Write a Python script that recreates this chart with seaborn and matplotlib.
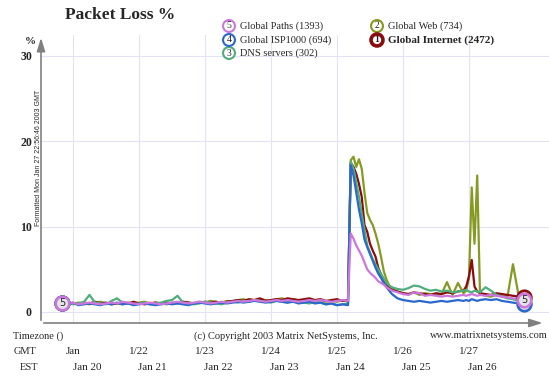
import numpy as np
import pandas as pd
import matplotlib
matplotlib.use("Agg")
import matplotlib.pyplot as plt
import matplotlib.transforms as mtransforms
import seaborn as sns

# ==========================================
# DATA (hours since Jan 20 00:00 GMT)
# ==========================================
hours = (list(range(20, 125, 2)) + list(range(125, 141)) + list(range(142, 167, 2))
         + list(range(167, 173)) + list(range(174, 189, 2)))

global_web = [1.0, 0.9, 1.0, 1.1, 1.0, 0.9, 1.1, 1.2, 1.0, 1.1,
              1.0, 0.9, 1.1, 1.0, 1.1, 1.2, 1.0, 1.1, 1.0, 0.9,
              1.1, 1.0, 1.2, 1.1, 1.0, 1.2, 1.1, 1.3, 1.2, 1.1,
              1.3, 1.2, 1.4, 1.5, 1.3, 1.4, 1.5, 1.4, 1.3, 1.5,
              1.6, 1.4, 1.5, 1.3, 1.4, 1.5, 1.3, 1.4, 1.2, 1.3,
              1.2, 1.4, 1.2,
              17.8, 18.2, 17.0, 17.9, 16.8, 14.0, 11.6, 10.8, 10.2, 9.2, 8.0, 6.5, 4.8, 3.8, 3.1, 2.8,
              2.4, 2.2, 2.1, 2.3, 2.0, 2.2, 2.1, 2.0, 2.1, 3.5, 2.0, 3.4, 2.2,
              2.5, 4.0, 14.6, 8.0, 16.0, 2.2,
              1.9, 1.8, 2.0, 1.9, 1.8, 5.6, 2.0, 1.6]

global_internet = [1.0, 1.1, 1.0, 0.9, 1.1, 1.0, 1.2, 1.0, 1.1, 0.9,
                   1.0, 1.1, 1.0, 1.2, 1.0, 0.9, 1.0, 1.1, 1.0, 1.1,
                   1.0, 1.1, 1.2, 1.1, 1.0, 1.1, 1.2, 1.1, 1.2, 1.0,
                   1.2, 1.3, 1.4, 1.3, 1.5, 1.4, 1.6, 1.3, 1.4, 1.5,
                   1.4, 1.6, 1.5, 1.4, 1.5, 1.6, 1.4, 1.5, 1.3, 1.4,
                   1.5, 1.3, 1.4,
                   17.5, 17.0, 16.2, 15.0, 13.5, 10.2, 9.4, 8.0, 7.2, 6.5, 5.2, 4.4, 3.8, 3.2, 2.8, 2.6,
                   2.4, 2.2, 2.1, 2.3, 2.2, 2.1, 2.0, 2.2, 2.1, 2.3, 2.2, 2.4, 2.5,
                   3.0, 4.2, 6.1, 3.0, 2.4, 2.2,
                   2.1, 2.0, 2.2, 2.1, 2.0, 1.9, 1.8, 1.7]

dns_servers = [1.0, 1.1, 0.9, 1.0, 1.2, 2.0, 1.1, 1.0, 0.9, 1.3,
               1.6, 1.1, 1.0, 0.9, 1.0, 1.1, 0.9, 1.0, 1.1, 1.3,
               1.4, 1.9, 1.1, 1.0, 0.9, 1.0, 1.2, 1.1, 1.0, 0.9,
               1.1, 1.2, 1.1, 1.3, 1.2, 1.4, 1.3, 1.2, 1.1, 1.3,
               1.2, 1.1, 1.3, 1.2, 1.1, 1.0, 1.2, 1.1, 0.9, 1.0,
               0.8, 0.9, 1.0,
               17.6, 16.8, 15.2, 13.5, 11.5, 9.6, 7.8, 7.0, 6.2, 5.6, 5.0, 4.5, 3.9, 3.4, 3.1, 2.9,
               2.7, 2.6, 2.8, 3.1, 3.0, 2.7, 2.5, 2.6, 2.4, 2.5, 2.3, 2.4, 2.5,
               2.6, 2.4, 2.3, 2.5, 2.4, 2.3,
               2.9, 2.5, 2.0, 1.8, 1.6, 1.5, 1.3, 1.1]

global_isp1000 = [1.0, 0.9, 1.1, 0.8, 0.9, 1.0, 0.9, 0.8, 1.0, 0.9,
                  1.1, 0.9, 1.0, 0.8, 0.9, 1.0, 0.9, 0.8, 0.9, 1.0,
                  0.9, 1.0, 0.9, 0.8, 1.0, 1.1, 1.0, 0.9, 1.0, 1.1,
                  1.0, 1.1, 1.2, 1.1, 1.2, 1.3, 1.2, 1.1, 1.2, 1.3,
                  1.2, 1.1, 1.2, 1.0, 1.1, 1.2, 1.0, 1.1, 0.9, 1.0,
                  0.8, 0.9, 0.8,
                  17.2, 16.0, 14.0, 12.0, 10.4, 8.5, 7.6, 6.8, 6.0, 5.2, 4.5, 4.0, 3.4, 2.9, 2.5, 2.1,
                  1.6, 1.4, 1.3, 1.2, 1.3, 1.2, 1.1, 1.2, 1.3, 1.2, 1.3, 1.4, 1.3,
                  1.4, 1.3, 1.5, 1.4, 1.3, 1.4,
                  1.5, 1.4, 1.5, 1.3, 1.2, 1.1, 1.0, 0.9]

global_paths = [1.1, 1.0, 1.1, 0.9, 1.0, 1.1, 1.0, 0.9, 1.0, 1.1,
                1.0, 1.2, 1.1, 1.0, 0.9, 1.0, 1.1, 1.0, 0.9, 1.0,
                1.1, 1.2, 1.1, 1.0, 1.1, 1.2, 1.1, 1.0, 1.1, 1.2,
                1.1, 1.2, 1.3, 1.2, 1.3, 1.4, 1.3, 1.2, 1.3, 1.4,
                1.3, 1.4, 1.3, 1.2, 1.3, 1.4, 1.3, 1.4, 1.3, 1.2,
                1.3, 1.4, 1.3,
                9.2, 8.6, 7.8, 7.2, 6.6, 5.8, 5.0, 4.6, 4.3, 4.0, 3.6, 3.4, 3.2, 2.9, 2.7, 2.5,
                2.3, 2.1, 2.0, 2.3, 2.2, 1.9, 2.0, 1.9, 1.8, 1.9, 1.8, 1.9, 2.0,
                1.9, 2.0, 2.1, 2.0, 1.9, 2.0,
                1.9, 2.0, 1.9, 1.8, 1.7, 1.6, 1.5, 1.4]

# draw order (last on top), number shown in the circle, legend label
series_names = ["Global Web", "Global Internet", "DNS servers", "Global ISP1000", "Global Paths"]
series_nums = ["2", "1", "3", "4", "5"]
series_counts = [734, 2472, 302, 694, 1393]
series_colors = ["#869a22", "#8b0c0c", "#4fae7c", "#2a68cc", "#cc77dd"]
series_values = [global_web, global_internet, dns_servers, global_isp1000, global_paths]

gmt_days = [24, 48, 72, 96, 120, 144, 168]
gmt_labels = ["Jan", "1/22", "1/23", "1/24", "1/25", "1/26", "1/27"]
est_labels = ["Jan 20", "Jan 21", "Jan 22", "Jan 23", "Jan 24", "Jan 25", "Jan 26"]
est_offset = 5  # hours

# ==========================================
# PLOT
# ==========================================
sns.set_style("white")
plt.rcParams['font.family'] = ['Liberation Serif', 'DejaVu Serif']

W, H = 549, 380
fig = plt.figure(figsize=(W / 100, H / 100), dpi=100)
ax = fig.add_axes([41 / W, 57 / H, 508 / W, 288 / H])


def fx(px):
    return px / W


def fy(py):
    return 1 - py / H


df = pd.concat([pd.DataFrame({'hour': hours, 'loss': v, 'series': n})
                for n, v in zip(series_names, series_values)], ignore_index=True)

sns.lineplot(data=df, x='hour', y='loss', hue='series', hue_order=series_names,
             palette=dict(zip(series_names, series_colors)), linewidth=1.6,
             estimator=None, legend=False, ax=ax)

ax.set_xlim(12.36, 197.1)
ax.set_ylim(-1.29, 32.46)
ax.set_xticks(gmt_days)
ax.set_xticklabels([])
ax.set_yticks([0, 10, 20, 30])
ax.set_yticklabels(['0', '10', '20', '30'], fontweight='bold', fontsize=8.5)
ax.tick_params(axis='both', length=0)
ax.tick_params(axis='y', pad=6.5)
ax.grid(True, color='#e3e3f7', lw=0.8)
ax.set_xlabel('')
ax.set_ylabel('')
for s in ax.spines.values():
    s.set_visible(False)

# axis lines with arrow heads
ax.annotate('', xy=(0, 1.0), xytext=(0, 0), xycoords='axes fraction',
            arrowprops=dict(arrowstyle='-|>,head_length=0.8,head_width=0.25', color='#808080', lw=1.2))
ax.annotate('', xy=(0.993, 0), xytext=(0, 0), xycoords='axes fraction',
            arrowprops=dict(arrowstyle='-|>,head_length=0.8,head_width=0.25', color='#808080', lw=1.2))

# circles at both ends of each line, number only on the top one
for i, (num, col, vals) in enumerate(zip(series_nums, series_colors, series_values)):
    ends_x = [hours[0], hours[-1]]
    ends_y = [vals[0], vals[-1]]
    ax.scatter(ends_x, ends_y, s=95, facecolor='#e4e4e4', edgecolor=col,
               linewidth=1.9, zorder=5 + i)
    if i == len(series_names) - 1:
        for h, v in zip(ends_x, ends_y):
            ax.text(h, v, num, ha='center', va='center', fontsize=7, zorder=20,
                    family='DejaVu Sans')

# title and legend
fig.text(fx(65), fy(15), 'Packet Loss %', fontsize=12.5, fontweight='bold', va='center')
legend_pos = {"5": (229, 26), "4": (229, 40), "3": (229, 53), "2": (377, 26), "1": (377, 40)}
for num, name, cnt, col in zip(series_nums, series_names, series_counts, series_colors):
    cx, cy = legend_pos[num]
    bold = num == "1"
    fig.text(fx(cx), fy(cy), num, ha='center', va='center', fontsize=7,
             fontweight='bold' if bold else 'normal',
             bbox=dict(boxstyle='circle,pad=0.15', fc='white', ec=col, lw=2.6 if bold else 1.5))
    fig.text(fx(cx + 11), fy(cy), f'{name} ({cnt})', ha='left', va='center',
             fontsize=8 if bold else 7.5, fontweight='bold' if bold else 'normal')

fig.text(fx(30), fy(42), '%', ha='center', va='center', fontsize=8, fontweight='bold')
fig.text(fx(38.5), fy(158), 'Formatted Mon Jan 27 22:56:46 2003 GMT', rotation=90,
         ha='center', va='center', fontsize=5, family='Liberation Sans')

# footer
fig.text(fx(13), fy(336), 'Timezone ()', va='center', fontsize=7.5)
fig.text(fx(194), fy(336), '(c) Copyright 2003 Matrix NetSystems, Inc.', va='center', fontsize=7.5)
fig.text(fx(548), fy(336), 'www.matrixnetsystems.com', va='center', ha='right', fontsize=7.5)
fig.text(fx(14), fy(351), 'GMT', va='center', fontsize=7.5)
fig.text(fx(20), fy(367), 'EST', va='center', fontsize=7.5)

trans = mtransforms.blended_transform_factory(ax.transData, fig.transFigure)
for d, g, e in zip(gmt_days, gmt_labels, est_labels):
    fig.text(d, fy(351), g, transform=trans, ha='center', va='center', fontsize=8)
    fig.text(d + est_offset, fy(367), e, transform=trans, ha='center', va='center', fontsize=8)

fig.savefig('out.png', dpi=100)
